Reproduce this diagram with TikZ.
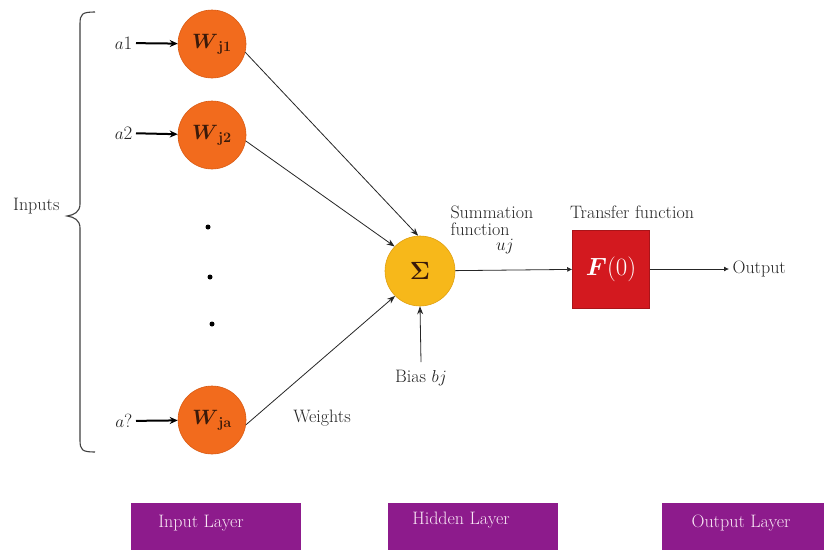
\documentclass[tikz,border=0pt]{standalone}
\usetikzlibrary{arrows.meta}
\usepackage{amsmath}
\definecolor{orangeN}{HTML}{F26B1D}
\definecolor{orangeE}{HTML}{D95A12}
\definecolor{goldN}{HTML}{F7B81A}
\definecolor{goldE}{HTML}{E0A010}
\definecolor{redBox}{HTML}{D3191F}
\definecolor{purpleBox}{HTML}{8D1B8C}
\definecolor{txtPink}{HTML}{F8E6F4}
\definecolor{darkTxt}{HTML}{3A1A0A}
\begin{document}
\begin{tikzpicture}[x=1pt,y=-1pt,
  txt/.style={font=\fontsize{18}{17}\selectfont, text=black!85},
  wnode/.style={circle, minimum size=68pt, inner sep=0pt, fill=orangeN, draw=orangeE, line width=0.6pt, font=\fontsize{20}{22}\selectfont, text=darkTxt},
  signode/.style={circle, minimum size=70pt, inner sep=0pt, fill=goldN, draw=goldE, line width=0.6pt, font=\fontsize{24}{26}\selectfont, text=darkTxt},
  fbox/.style={rectangle, minimum width=77pt, minimum height=78pt, inner sep=0pt, fill=redBox, draw=redBox!80!black, line width=0.5pt, text=white, font=\fontsize{25}{27}\selectfont},
  layerbox/.style={rectangle, fill=purpleBox, inner sep=0pt},
  inarrow/.style={line width=2pt, -{Stealth[length=8pt,width=7pt]}},
  conn/.style={line width=0.8pt, black!85, -{Stealth[length=8pt,width=6pt]}},
  thinarrow/.style={line width=0.8pt, black!85, -{Latex[length=5pt,width=5pt]}},
  dotnode/.style={circle, fill=black, inner sep=0pt, minimum size=5pt}
]
\useasboundingbox (0,0) rectangle (824,549);
\fill[white] (0,0) rectangle (824,549);

% brace
\draw[line width=1.1pt, black!75] (95,12) .. controls (82,12) and (80,14) .. (80,24)
  -- (80,204) .. controls (80,212) and (74,215) .. (67,216)
  .. controls (74,217) and (80,220) .. (80,228)
  -- (80,440) .. controls (80,450) and (82,452) .. (95,452);
\node[txt, anchor=east] (inputs) at (63,206) {Inputs};

% weight nodes
\node[wnode] (w1) at (212,44) {$\boldsymbol{W}_{\mathbf{j1}}$};
\node[wnode] (w2) at (212,135) {$\boldsymbol{W}_{\mathbf{j2}}$};
\node[wnode] (wa) at (212,420) {$\boldsymbol{W}_{\mathbf{ja}}$};

% input labels
\node[txt, anchor=east, font=\fontsize{19}{20}\selectfont] (a1) at (136,43) {$a$1};
\node[txt, anchor=east, font=\fontsize{19}{20}\selectfont] (a2) at (136,133) {$a$2};
\node[txt, anchor=east, font=\fontsize{19}{20}\selectfont] (aq) at (136,421) {$a$?};
\draw[inarrow] (a1) -- (w1);
\draw[inarrow] (a2) -- (w2);
\draw[inarrow] (aq) -- (wa);

% dots
\node[dotnode] (d1) at (208,227) {};
\node[dotnode] (d2) at (210,277) {};
\node[dotnode] (d3) at (212,324) {};

% summation
\node[signode] (sig) at (420,271) {$\boldsymbol{\Sigma}$};
\draw[conn] (w1.-14) -- (sig.93);
\draw[conn] (w2.-10) -- (sig.136);
\draw[conn] (wa.-8) -- (sig.225);

% bias
\node[txt] (bias) at (421,378) {Bias $bj$};
\coordinate (biasstart) at (421,362);
\draw[conn] (biasstart) -- (sig.south);

\node[txt, align=left, anchor=west] (sumlab) at (447,221) {Summation\\function};
\node[txt] (uj) at (505,247) {$uj$};

\node[txt] (weights) at (322,418) {Weights};

% transfer function
\node[fbox] (F) at (611,269) {$\boldsymbol{F}(0)$};
\node[txt] (tflab) at (632,212) {Transfer function};
\draw[thinarrow] (sig) -- (F);

\node[txt, anchor=west] (out) at (729,269) {Output};
\draw[thinarrow] (F) -- (out);

% layer boxes
\node[layerbox, minimum width=170pt, minimum height=47pt, anchor=north west] (inl) at (131,503) {};
\node[txt, text=txtPink] (inlt) at (201,523) {Input Layer};
\node[layerbox, minimum width=170pt, minimum height=47pt, anchor=north west] (hidl) at (388,503) {};
\node[txt, text=txtPink] (hidlt) at (461,520) {Hidden Layer};
\node[layerbox, minimum width=163pt, minimum height=47pt, anchor=north west] (outl) at (662,503) {};
\node[txt, text=txtPink] (outlt) at (741,523) {Output Layer};
\end{tikzpicture}
\end{document}
